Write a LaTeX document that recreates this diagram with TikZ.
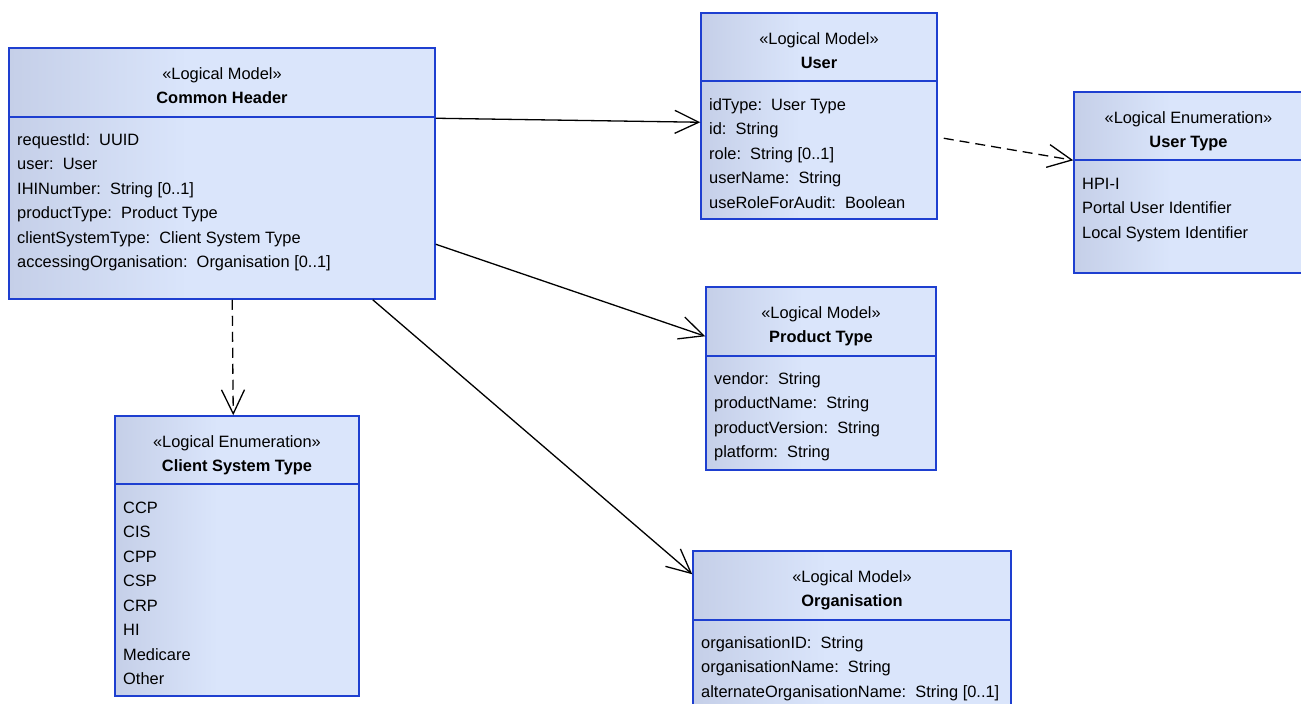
\documentclass[tikz,border=0pt]{standalone}
\usepackage{fontspec}
\setmainfont{Liberation Sans}
\usepackage{tikz}
\usetikzlibrary{arrows.meta}

\definecolor{boxleft}{HTML}{C5CFE8}
\definecolor{boxright}{HTML}{DAE5FB}
\definecolor{umlblue}{HTML}{1E3FD0}
\pgfdeclarehorizontalshading{umlfill}{100bp}{color(0bp)=(boxleft); color(25bp)=(boxleft); color(46bp)=(boxright); color(100bp)=(boxright)}

\tikzset{
  classbox/.style={draw=umlblue, line width=1.5pt, shade, shading=umlfill, inner sep=0pt},
  sepline/.style={draw=umlblue, line width=1.6pt},
  stereo/.style={anchor=base, inner sep=0pt, font=\fontsize{16.4pt}{19pt}\selectfont},
  classname/.style={anchor=base, inner sep=0pt, font=\fontsize{16.4pt}{19pt}\selectfont\bfseries},
  attr/.style={anchor=base west, inner sep=0pt, font=\fontsize{16.4pt}{19pt}\selectfont},
  assoc/.style={line width=1.3pt, -{Straight Barb[length=24pt, width=23pt, line width=1.3pt]}},
  depend/.style={assoc, dash pattern=on 10pt off 6pt}
}

\begin{document}
\begin{tikzpicture}[x=1pt, y=-1pt]
        \useasboundingbox (0, 0) rectangle (1301, 704);

        % classes
        \node [classbox, minimum width=426pt, minimum height=251pt] (header) at (222.0, 173.5) {};
        \node [classbox, minimum width=236pt, minimum height=206pt] (user) at (819.0, 116.0) {};
        \node [classbox, minimum width=229pt, minimum height=181pt] (usertype) at (1188.5, 182.5) {};
        \node [classbox, minimum width=230pt, minimum height=183pt] (product) at (821.0, 378.5) {};
        \node [classbox, minimum width=318pt, minimum height=179pt] (organisation) at (852.0, 640.5) {};
        \node [classbox, minimum width=244pt, minimum height=280pt] (clientsys) at (237.0, 556.0) {};

        \draw [sepline] ([yshift=-70pt]header.north west) -- ([yshift=-70pt]header.north east);
        \draw [sepline] ([yshift=-69pt]user.north west) -- ([yshift=-69pt]user.north east);
        \draw [sepline] ([yshift=-69pt]usertype.north west) -- ([yshift=-69pt]usertype.north east);
        \draw [sepline] ([yshift=-70pt]product.north west) -- ([yshift=-70pt]product.north east);
        \draw [sepline] ([yshift=-70pt]organisation.north west) -- ([yshift=-70pt]organisation.north east);
        \draw [sepline] ([yshift=-69pt]clientsys.north west) -- ([yshift=-69pt]clientsys.north east);

        % Common Header
        \node [stereo] (headerst) at (222.0, 79.0) {«Logical Model»};
        \node [classname] (headernm) at (222.0, 103.0) {Common Header};
        \node [attr] (headera1) at (17.0, 145.0) {requestId:\ \ UUID};
        \node [attr] (headera2) at (17.0, 169.5) {user:\ \ User};
        \node [attr] (headera3) at (17.0, 194.0) {IHINumber:\ \ String [0..1]};
        \node [attr] (headera4) at (17.0, 218.5) {productType:\ \ Product Type};
        \node [attr] (headera5) at (17.0, 243.0) {clientSystemType:\ \ Client System Type};
        \node [attr] (headera6) at (17.0, 267.5) {accessingOrganisation:\ \ Organisation [0..1]};

        % User
        \node [stereo] (userst) at (819.0, 44.0) {«Logical Model»};
        \node [classname] (usernm) at (819.0, 68.0) {User};
        \node [attr] (usera1) at (709.0, 110.0) {idType:\ \ User Type};
        \node [attr] (usera2) at (709.0, 134.5) {id:\ \ String};
        \node [attr] (usera3) at (709.0, 159.0) {role:\ \ String [0..1]};
        \node [attr] (usera4) at (709.0, 183.5) {userName:\ \ String};
        \node [attr] (usera5) at (709.0, 208.0) {useRoleForAudit:\ \ Boolean};

        % User Type
        \node [stereo] (usertypest) at (1188.5, 123.0) {«Logical Enumeration»};
        \node [classname] (usertypenm) at (1188.5, 147.0) {User Type};
        \node [attr] (usertypea1) at (1082.0, 189.0) {HPI-I};
        \node [attr] (usertypea2) at (1082.0, 213.5) {Portal User Identifier};
        \node [attr] (usertypea3) at (1082.0, 238.0) {Local System Identifier};

        % Product Type
        \node [stereo] (productst) at (821.0, 318.0) {«Logical Model»};
        \node [classname] (productnm) at (821.0, 342.0) {Product Type};
        \node [attr] (producta1) at (714.0, 384.0) {vendor:\ \ String};
        \node [attr] (producta2) at (714.0, 408.5) {productName:\ \ String};
        \node [attr] (producta3) at (714.0, 433.0) {productVersion:\ \ String};
        \node [attr] (producta4) at (714.0, 457.5) {platform:\ \ String};

        % Organisation
        \node [stereo] (organisationst) at (852.0, 582.0) {«Logical Model»};
        \node [classname] (organisationnm) at (852.0, 606.0) {Organisation};
        \node [attr] (organisationa1) at (701.0, 648.0) {organisationID:\ \ String};
        \node [attr] (organisationa2) at (701.0, 672.5) {organisationName:\ \ String};
        \node [attr] (organisationa3) at (701.0, 697.0) {alternateOrganisationName:\ \ String [0..1]};

        % Client System Type
        \node [stereo] (clientsysst) at (237.0, 447.0) {«Logical Enumeration»};
        \node [classname] (clientsysnm) at (237.0, 471.0) {Client System Type};
        \node [attr] (clientsysa1) at (123.0, 513.0) {CCP};
        \node [attr] (clientsysa2) at (123.0, 537.5) {CIS};
        \node [attr] (clientsysa3) at (123.0, 562.0) {CPP};
        \node [attr] (clientsysa4) at (123.0, 586.5) {CSP};
        \node [attr] (clientsysa5) at (123.0, 611.0) {CRP};
        \node [attr] (clientsysa6) at (123.0, 635.5) {HI};
        \node [attr] (clientsysa7) at (123.0, 660.0) {Medicare};
        \node [attr] (clientsysa8) at (123.0, 684.5) {Other};

        % connectors
        \draw [assoc] ([yshift=-71pt]header.north east) -- ([yshift=-110pt]user.north west);
        \draw [assoc] ([yshift=-197pt]header.north east) -- ([yshift=-50pt]product.north west);
        \draw [assoc] ([xshift=-63pt]header.south east) -- ([yshift=-24pt]organisation.north west);
        \draw [depend] ([xshift=224pt]header.south west) -- ([xshift=119pt]clientsys.north west);
        \draw [depend] ([xshift=6pt, yshift=-126pt]user.north east) -- ([yshift=-69pt]usertype.north west);
      \end{tikzpicture}
\end{document}
